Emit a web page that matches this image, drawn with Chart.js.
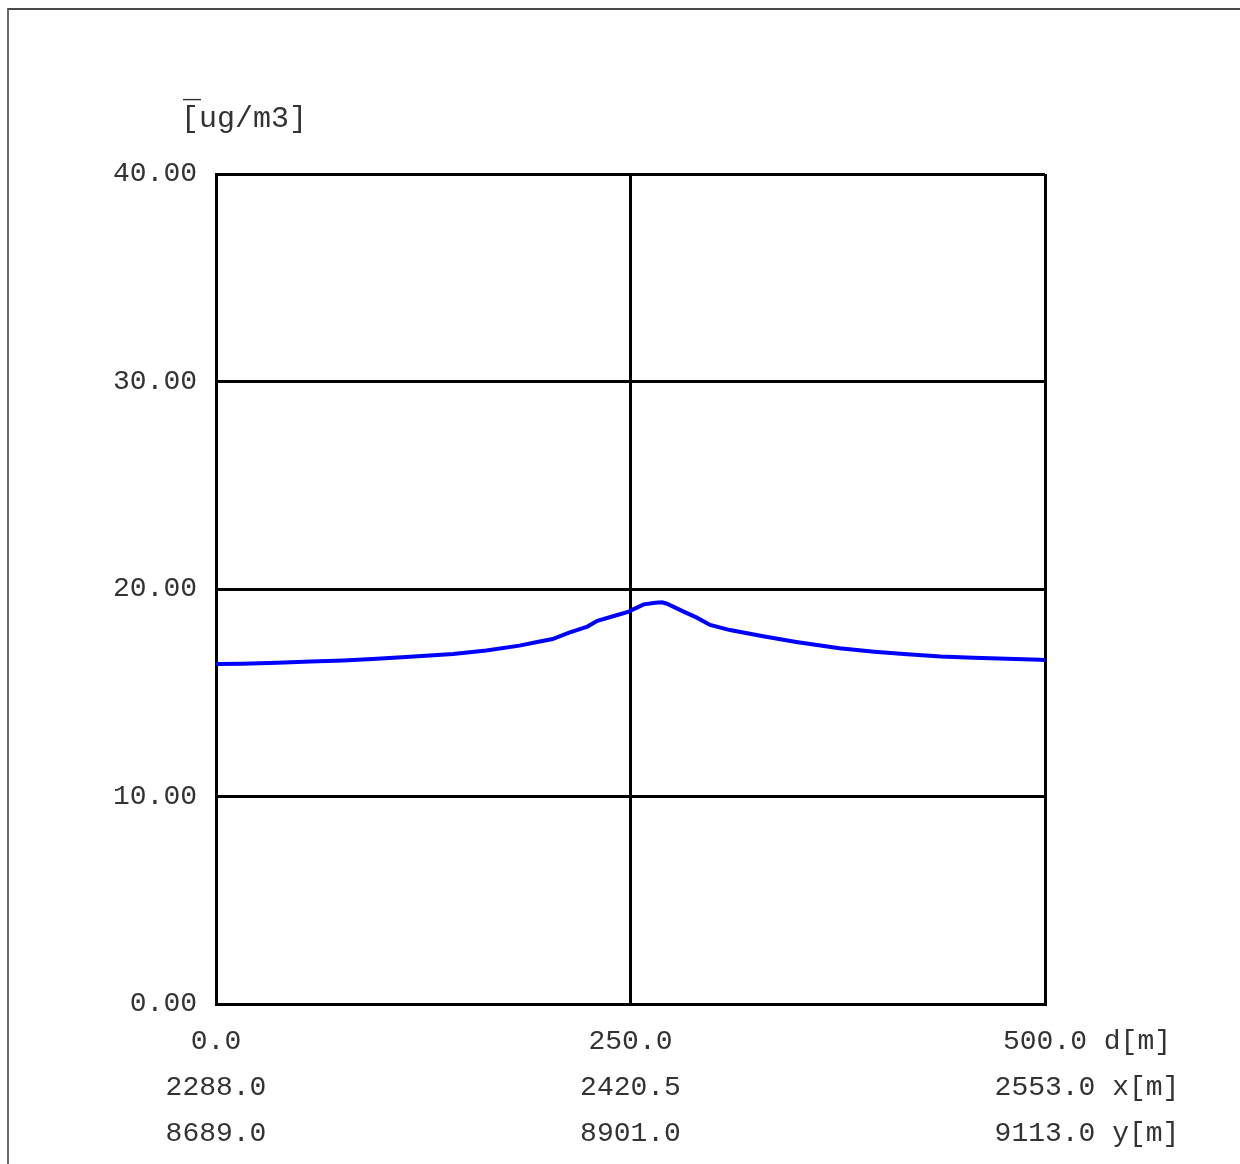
<!DOCTYPE html>
<html>
<head>
<meta charset="utf-8">
<script src="https://cdn.jsdelivr.net/npm/chart.js@4"></script>
<style>
  html, body { margin: 0; padding: 0; background: #fff; }
  #wrap { position: relative; width: 1240px; height: 1164px; }
  #frame { position: absolute; left: 7px; top: 8px; right: -10px; bottom: -10px;
           border-left: 2px solid #6a6a6a; border-top: 2px solid #4a4a4a; pointer-events: none; }
  canvas { position: absolute; left: 0; top: 0; }
</style>
</head>
<body>
<div id="wrap">
  <canvas id="c" width="1240" height="1164"></canvas>
  <div id="frame"></div>
</div>
<script>
// Profile along the section line: distance d [m] and concentration [ug/m3]
const distance = [0, 16, 37, 57, 77, 97, 117, 143, 163, 183, 193, 203, 213, 224, 230, 240, 249,
                  250, 258, 265, 269, 272, 282, 290, 298, 310, 330, 350, 376, 397, 417, 437, 457, 477, 497, 500];
const concentration = [16.39, 16.40, 16.45, 16.51, 16.56, 16.64, 16.74, 16.87, 17.04, 17.27, 17.43, 17.59, 17.90, 18.19, 18.47, 18.70, 18.91,
                       18.96, 19.26, 19.34, 19.36, 19.29, 18.91, 18.62, 18.27, 18.02, 17.72, 17.45, 17.14, 16.98, 16.85, 16.75, 16.69, 16.64, 16.59, 16.58];

// Tick rows under the horizontal axis: distance, x coordinate, y coordinate
const dTicks = [0, 250, 500];
const dLabels = ['0.0', '250.0', '500.0'];
const xCoordLabels = ['2288.0', '2420.5', '2553.0'];
const yCoordLabels = ['8689.0', '8901.0', '9113.0'];
const rowUnits = ['d[m]', 'x[m]', 'y[m]'];
const yTicks = [0, 10, 20, 30, 40];
const unitLabel = '[ug/m3]';

const FONT = '"Liberation Mono", "DejaVu Sans Mono", monospace';
const TEXT = '#333';

const points = distance.map((d, i) => ({ x: d, y: concentration[i] }));

// Units text above the value axis, with the bar over its opening bracket
const unitPlugin = {
  id: 'unitLabel',
  afterDraw(chart) {
    const ctx = chart.ctx;
    ctx.save();
    ctx.font = '30px ' + FONT;
    ctx.fillStyle = TEXT;
    ctx.textAlign = 'left';
    ctx.textBaseline = 'middle';
    ctx.fillText(unitLabel, 181, 119);
    ctx.fillText('\u203E', 183, 113);
    ctx.restore();
  }
};

function padRow(text, unit, isLast) {
  if (!isLast) return text;
  const full = text + ' ' + unit;
  // left padding keeps the number itself centred on its tick
  const pad = full.length - text.length;
  return ' '.repeat(pad) + full;
}

new Chart(document.getElementById('c'), {
  type: 'line',
  data: {
    datasets: [{
      data: points,
      borderColor: '#0000ff',
      borderWidth: 4,
      pointRadius: 0,
      tension: 0,
      fill: false
    }]
  },
  options: {
    responsive: false,
    animation: false,
    layout: { padding: { top: 174, right: 195, left: 0, bottom: 0 } },
    plugins: { legend: { display: false }, tooltip: { enabled: false } },
    scales: {
      x: {
        type: 'linear',
        min: 0,
        max: 500,
        afterBuildTicks(scale) { scale.ticks = dTicks.map(v => ({ value: v })); },
        afterFit(scale) { scale.height = 160; },
        grid: { color: '#000', lineWidth: 3, drawTicks: false, tickLength: 0 },
        border: { color: '#000', width: 3 },
        ticks: {
          padding: 14,
          maxRotation: 0,
          autoSkip: false,
          color: TEXT,
          font: { family: FONT, size: 28, lineHeight: 1.65 },
          callback(value) {
            const i = dTicks.indexOf(value);
            if (i < 0) return '';
            const last = i === dTicks.length - 1;
            return [
              padRow(dLabels[i], rowUnits[0], last),
              padRow(xCoordLabels[i], rowUnits[1], last),
              padRow(yCoordLabels[i], rowUnits[2], last)
            ];
          }
        }
      },
      y: {
        type: 'linear',
        min: 0,
        max: 40,
        afterBuildTicks(scale) { scale.ticks = yTicks.map(v => ({ value: v })); },
        afterFit(scale) { scale.width = 216; },
        grid: { color: '#000', lineWidth: 3, drawTicks: false, tickLength: 0 },
        border: { color: '#000', width: 3 },
        ticks: {
          padding: 19,
          color: TEXT,
          font: { family: FONT, size: 28 },
          callback(value) { return value.toFixed(2); }
        }
      }
    }
  },
  plugins: [unitPlugin]
});
</script>
</body>
</html>
